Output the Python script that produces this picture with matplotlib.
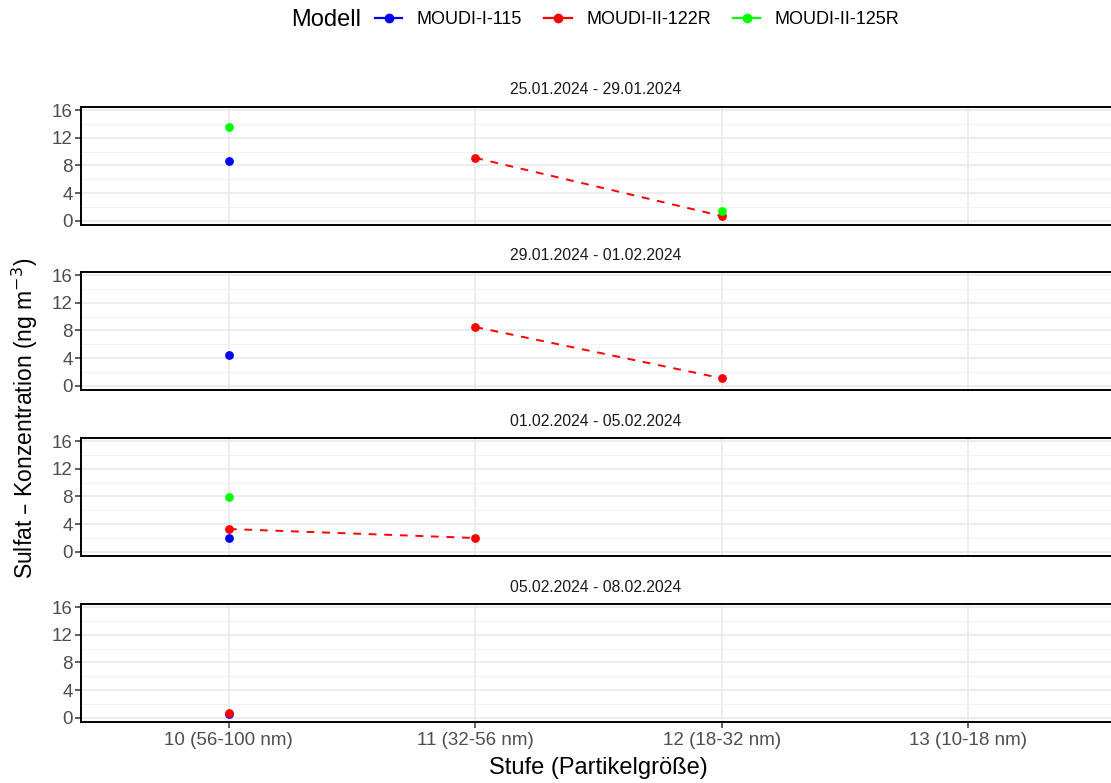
import matplotlib
matplotlib.use("Agg")
import matplotlib.pyplot as plt
from matplotlib.lines import Line2D
import numpy as np

plt.rcParams['font.family'] = ['Liberation Sans', 'DejaVu Sans']

stages = ["10 (56-100 nm)", "11 (32-56 nm)", "12 (18-32 nm)", "13 (10-18 nm)"]
periods = ["25.01.2024 - 29.01.2024", "29.01.2024 - 01.02.2024",
           "01.02.2024 - 05.02.2024", "05.02.2024 - 08.02.2024"]
models = ["MOUDI-I-115", "MOUDI-II-122R", "MOUDI-II-125R"]
colors = {"MOUDI-I-115": "#0000ff", "MOUDI-II-122R": "#ff0000", "MOUDI-II-125R": "#00ff00"}

# per period: list of (stage index, value)
blue_vals = [[(0, 8.7)], [(0, 4.4)], [(0, 2.0)], [(0, 0.6)]]
red_vals = [[(1, 9.1), (2, 0.7)], [(1, 8.5), (2, 1.1)], [(0, 3.3), (1, 2.0)], [(0, 0.7)]]
green_vals = [[(0, 13.5), (2, 1.4)], [], [(0, 7.9)], []]
series = {"MOUDI-I-115": blue_vals, "MOUDI-II-122R": red_vals, "MOUDI-II-125R": green_vals}

W, H = 1111, 783
fig = plt.figure(figsize=(W / 100, H / 100), dpi=100)

left_px, right_px = 81, 1111
tops = [107, 272, 438, 604]
ph = 118

for i, top in enumerate(tops):
    ax = fig.add_axes([left_px / W, 1 - (top + ph) / H, (right_px - left_px) / W, ph / H])
    ax.set_xlim(-0.6, 3.58)
    ax.set_ylim(-0.6, 16.45)
    ax.set_yticks([0, 4, 8, 12, 16])
    ax.set_yticks([2, 6, 10, 14], minor=True)
    ax.set_xticks(range(len(stages)))
    ax.grid(which='major', color='#ebebeb', linewidth=1.3, zorder=0)
    ax.grid(which='minor', axis='y', color='#f2f2f2', linewidth=0.8, zorder=0)
    ax.set_axisbelow(True)
    for s in ['left', 'top', 'bottom']:
        ax.spines[s].set_color('black')
        ax.spines[s].set_linewidth(1.4)
    ax.spines['right'].set_visible(False)
    ax.tick_params(axis='y', which='major', labelsize=13.5, labelcolor='#4d4d4d',
                   color='#333333', length=4, width=1.1, pad=2)
    ax.tick_params(axis='y', which='minor', length=0)
    if i < 3:
        ax.tick_params(axis='x', length=0, labelbottom=False)
    else:
        ax.set_xticklabels(stages)
        ax.tick_params(axis='x', labelsize=13.5, labelcolor='#4d4d4d',
                       color='#333333', length=4, width=1.1, pad=3)
    ax.set_title(periods[i], fontsize=11.3, color='#1a1a1a', pad=9)

    for m in models:
        pts = series[m][i]
        if not pts:
            continue
        # lines only between consecutive stages
        for a, b in zip(pts[:-1], pts[1:]):
            if b[0] - a[0] == 1:
                ax.plot([a[0], b[0]], [a[1], b[1]], linestyle=(0, (4, 4)),
                        color=colors[m], linewidth=1.4, zorder=2)
        xs = [p[0] for p in pts]
        ys = [p[1] for p in pts]
        ax.scatter(xs, ys, s=40, color=colors[m], zorder=3, linewidths=0)

fig.text(25 / W, 1 - 418 / H, "Sulfat – Konzentration (ng m$^{-3}$)", rotation=90,
         fontsize=16.5, va='center', ha='center')
fig.text(598 / W, 1 - 768 / H, "Stufe (Partikelgröße)", fontsize=17, ha='center', va='center')

# legend
fig.text(291 / W, 1 - 20 / H, "Modell", fontsize=17, va='center', ha='left')
handles = [Line2D([0], [0], color=colors[m], marker='o', markersize=6, linewidth=1.6,
                  linestyle='-') for m in models]
fig.legend(handles, models, loc='center left', bbox_to_anchor=(375 / W, 1 - 20 / H),
           ncol=3, frameon=False, fontsize=13, handlelength=1.5, handletextpad=0.8,
           columnspacing=1.25, borderaxespad=0, borderpad=0)

fig.savefig("out.png", dpi=100)
